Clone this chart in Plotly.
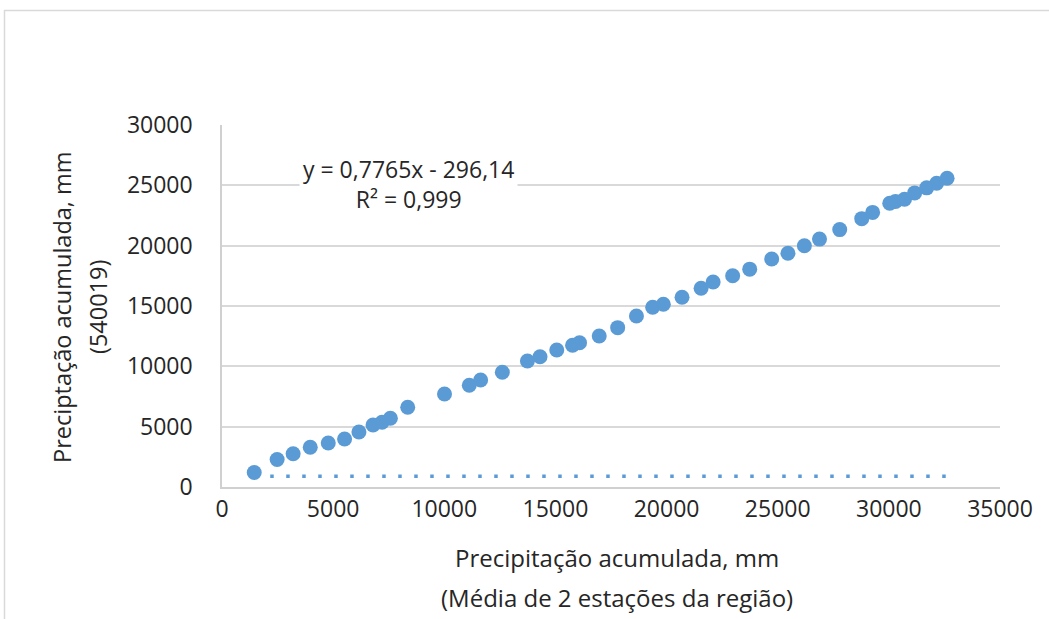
import plotly.graph_objects as go

# Cumulative precipitation (mm): mean of 2 regional stations (x) vs station 540019 (y)
x_media = [1450, 2480, 3200, 3970, 4780, 5515, 6160, 6795, 7200, 7575,
           8355, 10010, 11125, 11635, 12610, 13740, 14307, 15060, 15770, 16085,
           16970, 17800, 18645, 19375, 19855, 20696, 21553, 22094, 22973, 23740,
           24730, 25460, 26200, 26880, 27790, 28780, 29270, 30040, 30300, 30705,
           31160, 31700, 32150, 32620]
y_540019 = [1200, 2280, 2750, 3290, 3650, 3980, 4560, 5140, 5365, 5695,
            6607, 7710, 8430, 8870, 9510, 10445, 10800, 11357, 11747, 11960,
            12520, 13206, 14176, 14897, 15146, 15726, 16470, 16995, 17510, 18055,
            18900, 19374, 19995, 20543, 21330, 22240, 22755, 23520, 23670, 23850,
            24373, 24790, 25177, 25590]

# dotted trendline as drawn in the reference
trend_x = [1450, 32620]
trend_y = [900, 900]

x_ticks = [0, 5000, 10000, 15000, 20000, 25000, 30000, 35000]
y_ticks = [0, 5000, 10000, 15000, 20000, 25000, 30000]

equation_text = "y = 0,7765x - 296,14<br>R² = 0,999"
x_title_lines = ["Precipitação acumulada, mm", "(Média de 2 estações da região)"]
y_title_lines = ["Preciptação acumulada, mm", "(540019)"]

BLUE = "#5B9BD5"
FONT = "Open Sans"
TXT = "#262626"

fig = go.Figure()
fig.add_trace(go.Scatter(
    x=trend_x, y=trend_y, mode="lines",
    line=dict(color=BLUE, width=3.5, dash="3.5px,12.5px"),
    hoverinfo="skip", showlegend=False))
fig.add_trace(go.Scatter(
    x=x_media, y=y_540019, mode="markers",
    marker=dict(color=BLUE, size=15, line=dict(width=0)),
    showlegend=False))

W, H = 1049, 619
L, R, T, B = 222, 49, 125, 132
pw, ph = W - L - R, H - T - B

def px2paper_x(px):
    return (px - L) / pw

def px2paper_y(py):
    return (H - B - py) / ph

annotations = [
    dict(text=equation_text, xref="paper", yref="paper",
         x=px2paper_x(408), y=px2paper_y(184), xanchor="center", yanchor="middle",
         showarrow=False, align="center", bgcolor="white",
         borderpad=3, font=dict(size=23, color=TXT)),
]
for txt, py in zip(x_title_lines, [557, 597]):
    annotations.append(dict(text=txt, xref="paper", yref="paper",
                            x=px2paper_x(617), y=px2paper_y(py),
                            xanchor="center", yanchor="middle", showarrow=False,
                            font=dict(size=24, color=TXT)))
for txt, px in zip(y_title_lines, [62, 98]):
    annotations.append(dict(text=txt, xref="paper", yref="paper",
                            x=px2paper_x(px), y=px2paper_y(307),
                            xanchor="center", yanchor="middle", showarrow=False,
                            textangle=-90, font=dict(size=23.5, color=TXT)))

fig.update_layout(
    width=W, height=H,
    margin=dict(l=L, r=R, t=T, b=B, pad=0),
    paper_bgcolor="white", plot_bgcolor="white",
    font=dict(family=FONT, size=23, color=TXT),
    xaxis=dict(
        range=[0, 35000], tickvals=x_ticks, ticktext=[str(v) for v in x_ticks],
        showgrid=False, zeroline=False,
        showline=True, linecolor="#D0D0D0", linewidth=1.5,
        ticks="", ticklabelstandoff=1,
        tickfont=dict(size=23, color=TXT),
    ),
    yaxis=dict(
        range=[0, 30000], tickvals=y_ticks, ticktext=[str(v) for v in y_ticks],
        showgrid=True, gridcolor="#D9D9D9", gridwidth=1.5, zeroline=False,
        showline=True, linecolor="#D0D0D0", linewidth=1.5,
        ticks="", ticklabelstandoff=23,
        tickfont=dict(size=23, color=TXT),
    ),
    shapes=[
        dict(type="rect", xref="paper", yref="paper",
             x0=px2paper_x(4.5), x1=px2paper_x(1060),
             y0=px2paper_y(640), y1=px2paper_y(10.5),
             line=dict(color="#D9D9D9", width=1.5), fillcolor="rgba(0,0,0,0)",
             layer="below"),
    ],
    annotations=annotations,
)

fig.write_html("out.html")
